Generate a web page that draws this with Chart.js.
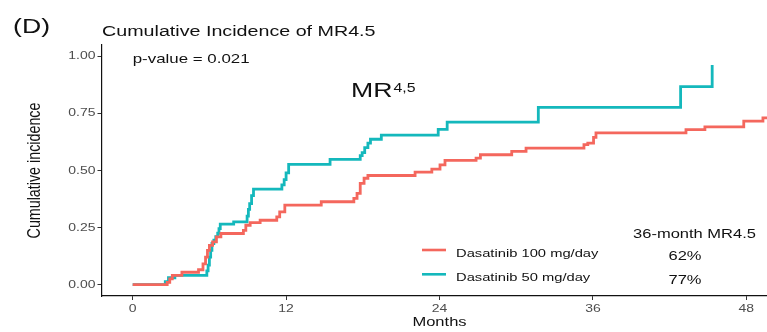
<!DOCTYPE html>
<html>
<head>
<meta charset="utf-8">
<script src="https://cdn.jsdelivr.net/npm/chart.js@4.4.1/dist/chart.umd.min.js"></script>
<style>
  html, body { margin: 0; padding: 0; background: #fff; overflow: hidden; }
  #frame { width: 767px; height: 332px; overflow: hidden; position: relative; }
  canvas { display: block; }
</style>
</head>
<body>
<div id="frame"><canvas id="ci" width="780" height="332"></canvas></div>
<script>
// Cumulative incidence of MR4.5 by dasatinib dose (step curves, months vs. proportion)
const seriesLabels = ['Dasatinib 100 mg/day', 'Dasatinib 50 mg/day'];
const seriesColors = ['#F4675D', '#14B8BC'];

const months100 = [0, 2.7, 2.9, 3.1, 3.85, 5.15, 5.5, 5.7, 5.85, 6.0, 6.25, 6.55, 6.9, 8.66, 8.85, 9.19, 9.97,
  11.27, 11.5, 11.9, 14.75, 17.3, 17.55, 17.8, 18.1, 18.4, 22.09, 23.4, 24.04, 24.43, 26.86, 27.2,
  29.65, 30.77, 35.3, 35.6, 36.05, 36.24, 43.28, 44.76, 47.8, 49.3, 50.4];
const incidence100 = [0, 0.01, 0.025, 0.04, 0.054, 0.065, 0.091, 0.12, 0.15, 0.172, 0.187, 0.209, 0.224, 0.238, 0.26, 0.272, 0.282,
  0.297, 0.319, 0.348, 0.363, 0.378, 0.40, 0.444, 0.466, 0.478, 0.493, 0.506, 0.525, 0.544, 0.554, 0.569,
  0.584, 0.598, 0.613, 0.62, 0.645, 0.665, 0.679, 0.691, 0.716, 0.731, 0.731];

const months50 = [0, 2.55, 2.8, 3.3, 5.8, 5.9, 6.0, 6.1, 6.2, 6.35, 6.5, 6.65, 6.75, 6.85, 7.9, 8.95, 9.05,
  9.15, 9.3, 9.45, 11.67, 11.85, 12.0, 12.2, 15.44, 17.8, 17.95, 18.15, 18.4, 18.6, 19.45, 23.9,
  24.6, 31.73, 42.86, 45.33];
const incidence50 = [0, 0.013, 0.03, 0.04, 0.06, 0.085, 0.12, 0.15, 0.18, 0.195, 0.21, 0.225, 0.245, 0.265, 0.275, 0.3, 0.33,
  0.355, 0.39, 0.418, 0.437, 0.46, 0.49, 0.527, 0.549, 0.565, 0.578, 0.6, 0.62, 0.637, 0.655, 0.68,
  0.712, 0.777, 0.868, 0.962];

const xTickValues = [0, 12, 24, 36, 48];
const yTickValues = [0, 0.25, 0.5, 0.75, 1];

const landmarkTitle = '36-month MR4.5';
const landmarkValues = ['62%', '77%'];
const pValueText = 'p-value = 0.021';

const FONT = "'Liberation Sans', Arial, sans-serif";
// Text in this figure is set wide; glyphs are widened horizontally around their anchor.
const TEXT_WIDEN = 1.27;
const baseFillText = CanvasRenderingContext2D.prototype.fillText;
CanvasRenderingContext2D.prototype.fillText = function (text, x, y, ...rest) {
  const m = this.getTransform();
  const ax = m.a * x + m.c * y + m.e;
  this.save();
  this.setTransform(new DOMMatrix().translate(ax, 0).scale(TEXT_WIDEN, 1).translate(-ax, 0).multiply(m));
  baseFillText.call(this, text, x, y, ...rest);
  this.restore();
};

function toPoints(xs, ys) {
  return xs.map((x, i) => ({ x: x, y: ys[i] }));
}

const annotations = {
  id: 'annotations',
  afterDraw(chart) {
    const ctx = chart.ctx;
    const xs = chart.scales.x;
    const area = chart.chartArea;
    ctx.save();
    ctx.fillStyle = '#111';
    ctx.textBaseline = 'alphabetic';
    ctx.textAlign = 'left';

    ctx.font = '21px ' + FONT;
    baseFillText.call(ctx, '', 0, 0);
    ctx.fillText('(D)', 13, 33);

    ctx.font = '15.5px ' + FONT;
    ctx.fillText('Cumulative Incidence of MR4.5', area.left, 36);

    ctx.font = '13.3px ' + FONT;
    ctx.fillText(pValueText, xs.getPixelForValue(0), 63);

    ctx.font = '21px ' + FONT;
    const mrX = 351;
    ctx.fillText('MR', mrX, 96.5);
    const mrW = ctx.measureText('MR').width * TEXT_WIDEN;
    ctx.font = '12.5px ' + FONT;
    ctx.fillText('4,5', mrX + mrW + 1, 91.5);

    // legend keys with landmark estimates
    const rowY = [250, 274.3];
    ctx.font = '11.6px ' + FONT;
    chart.data.datasets.forEach((ds, i) => {
      ctx.strokeStyle = ds.borderColor;
      ctx.lineWidth = 2.6;
      ctx.beginPath();
      ctx.moveTo(422, rowY[i]);
      ctx.lineTo(446, rowY[i]);
      ctx.stroke();
      ctx.fillStyle = '#111';
      ctx.textAlign = 'left';
      ctx.font = '11.6px ' + FONT;
      ctx.fillText(ds.label, 456, rowY[i] + 6.5);
      ctx.textAlign = 'center';
      ctx.font = '13px ' + FONT;
      ctx.fillText(landmarkValues[i], 685, rowY[i] + 9.6);
    });
    ctx.textAlign = 'center';
    ctx.font = '13px ' + FONT;
    ctx.fillText(landmarkTitle, 694.5, 238.3);
    ctx.restore();
  }
};

new Chart(document.getElementById('ci'), {
  type: 'line',
  data: {
    datasets: [
      { label: seriesLabels[0], data: toPoints(months100, incidence100), borderColor: seriesColors[0] },
      { label: seriesLabels[1], data: toPoints(months50, incidence50), borderColor: seriesColors[1] }
    ]
  },
  options: {
    responsive: false,
    animation: false,
    parsing: true,
    layout: { padding: { top: 45, right: 3, bottom: 0, left: 0 } },
    elements: {
      point: { radius: 0, hoverRadius: 0 },
      line: { borderWidth: 2.8, stepped: 'before', tension: 0, fill: false, borderCapStyle: 'butt', borderJoinStyle: 'miter' }
    },
    plugins: { legend: { display: false }, tooltip: { enabled: false }, title: { display: false } },
    scales: {
      x: {
        type: 'linear',
        min: -2.4,
        max: 50.4,
        afterBuildTicks: (s) => { s.ticks = xTickValues.map(v => ({ value: v })); },
        afterFit: (s) => { s.height = 36; },
        border: { display: true, color: '#111', width: 1.2 },
        grid: { display: true, drawOnChartArea: false, drawTicks: true, tickLength: 4, tickColor: '#333', lineWidth: 1 },
        ticks: { autoSkip: false, maxRotation: 0, padding: 2, color: '#4D4D4D', font: { family: FONT, size: 11 } },
        title: { display: true, text: 'Months', color: '#111', font: { family: FONT, size: 13 }, padding: { top: 2, bottom: 2 } }
      },
      y: {
        type: 'linear',
        min: -0.05,
        max: 1.05,
        afterBuildTicks: (s) => { s.ticks = yTickValues.map(v => ({ value: v })); },
        afterFit: (s) => { s.width = 102; },
        border: { display: true, color: '#111', width: 1.2 },
        grid: { display: true, drawOnChartArea: false, drawTicks: true, tickLength: 4.5, tickColor: '#333', lineWidth: 1 },
        ticks: { padding: 2, color: '#4D4D4D', font: { family: FONT, size: 11 }, callback: (v) => Number(v).toFixed(2) },
        title: { display: true, text: 'Cumulative incidence', color: '#111', font: { family: FONT, size: 14.3 }, padding: { top: 26, bottom: 26 } }
      }
    }
  },
  plugins: [annotations]
});
</script>
</body>
</html>
